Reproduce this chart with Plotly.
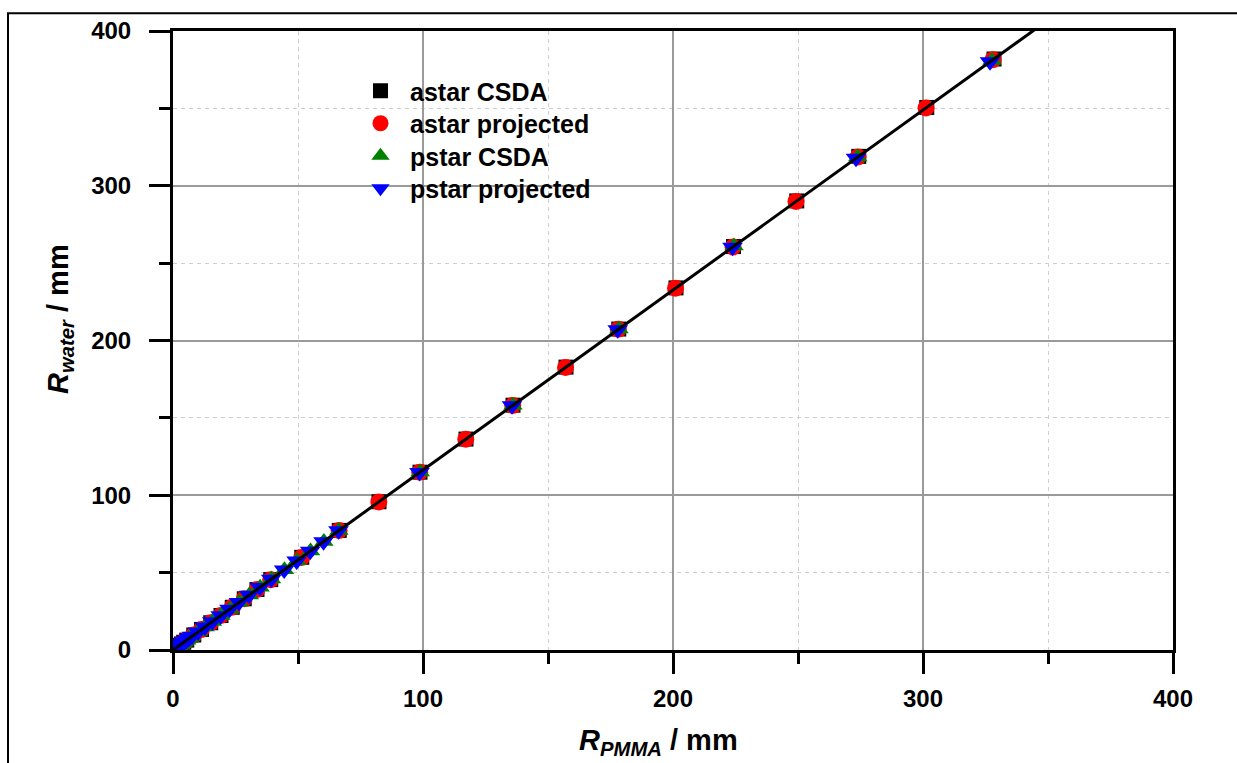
import plotly.graph_objects as go

# ---------------- data ----------------
astar_csda_pmma = [0.095, 0.36, 0.77, 1.29, 1.89, 2.58, 3.35, 4.3, 5.5, 8.3, 11.4, 15.1, 19.2, 23.7,
                   28.5, 33.6, 39.1, 51.5, 66.5, 82.4, 98.8, 117.2, 136.0, 157.2, 178.3, 201.2,
                   224.2, 249.5, 274.3, 301.5, 328.4]
astar_csda_water = [0.11, 0.42, 0.9, 1.5, 2.2, 3.0, 3.9, 5.0, 6.4, 9.7, 13.3, 17.6, 22.3, 27.6,
                    33.1, 39.1, 45.5, 59.9, 77.3, 95.8, 114.9, 136.3, 158.2, 182.8, 207.4, 234.0,
                    260.7, 290.2, 319.0, 350.6, 381.9]
astar_proj_pmma = [0.09, 0.35, 0.76, 1.28, 1.88, 2.57, 3.34, 4.29, 5.49, 8.29, 11.39, 15.08, 19.18, 23.68,
                   28.47, 33.57, 39.06, 51.45, 66.44, 82.32, 98.7, 117.1, 135.9, 157.0, 178.1, 201.0,
                   224.0, 249.2, 274.0, 301.2, 328.0]
astar_proj_water = [0.10, 0.41, 0.89, 1.49, 2.19, 2.99, 3.89, 4.99, 6.39, 9.69, 13.29, 17.58, 22.28, 27.57,
                    33.07, 39.06, 45.45, 59.84, 77.22, 95.7, 114.8, 136.2, 158.0, 182.6, 207.2, 233.7,
                    260.4, 289.9, 318.6, 350.2, 381.5]

pstar_csda_pmma = [0.026, 0.069, 0.129, 0.215, 0.31, 0.42, 0.56, 0.70, 0.86, 1.06, 1.56, 2.18, 2.90,
                   3.66, 4.51, 5.48, 6.49, 7.61, 10.08, 12.80, 15.77, 19.15, 22.67, 26.47, 30.53,
                   34.84, 39.39, 44.57, 49.58, 55.01, 60.35, 66.36, 98.9, 136.0, 178.4, 224.4,
                   273.9, 327.6]
pstar_csda_water = [0.03, 0.08, 0.15, 0.25, 0.36, 0.49, 0.65, 0.81, 1.00, 1.23, 1.81, 2.54, 3.37,
                    4.26, 5.25, 6.37, 7.55, 8.85, 11.72, 14.89, 18.34, 22.27, 26.37, 30.79, 35.51,
                    40.52, 45.81, 51.84, 57.66, 63.98, 70.19, 77.18, 115.0, 158.2, 207.5, 261.0,
                    318.5, 381.0]
pstar_proj_pmma = [0.025, 0.067, 0.127, 0.212, 0.306, 0.415, 0.554, 0.693, 0.852, 1.05, 1.55, 2.17, 2.88,
                   3.64, 4.49, 5.46, 6.47, 7.58, 10.05, 12.76, 15.73, 19.10, 22.61, 26.40, 30.45,
                   34.75, 39.29, 44.46, 49.46, 54.88, 60.21, 66.20, 98.6, 135.6, 177.9, 223.8,
                   273.2, 326.8]
pstar_proj_water = [0.029, 0.078, 0.148, 0.247, 0.356, 0.485, 0.644, 0.803, 0.99, 1.22, 1.80, 2.52, 3.35,
                    4.24, 5.23, 6.35, 7.52, 8.82, 11.68, 14.85, 18.29, 22.21, 26.30, 30.71, 35.42,
                    40.42, 45.70, 51.71, 57.52, 63.83, 70.02, 77.00, 114.7, 157.8, 206.9, 260.3,
                    317.7, 380.1]

fit_pmma = [0, 400]
fit_water = [0, 465.2]

x_ticks = [0, 100, 200, 300, 400]
y_ticks = [0, 100, 200, 300, 400]

FONT = "Liberation Sans, Arial, sans-serif"

fig = go.Figure()
series = [
    ("astar CSDA", astar_csda_pmma, astar_csda_water, "square", "black", 15),
    ("astar projected", astar_proj_pmma, astar_proj_water, "circle", "#ff0000", 17),
    ("pstar CSDA", pstar_csda_pmma, pstar_csda_water, "triangle-up", "#008000", 17),
    ("pstar projected", pstar_proj_pmma, pstar_proj_water, "triangle-down", "#0000ff", 18),
]
legend_names = ["legend", "legend2", "legend3", "legend4"]
for (name, xs, ys, sym, col, sz), lg in zip(series, legend_names):
    fig.add_trace(go.Scatter(
        x=xs, y=ys, mode="markers", name=name, legend=lg,
        marker=dict(symbol=sym, color=col, size=sz, line=dict(width=0)),
    ))

fig.add_trace(go.Scatter(x=fit_pmma, y=fit_water, mode="lines",
                         line=dict(color="black", width=3), showlegend=False, hoverinfo="skip"))

W, H = 1237, 763
L, R, T, B = 173, 64, 31, 113
pw, ph = W - L - R, H - T - B

def px(xp):
    return (xp - L) / pw

def py(yp):
    return (H - B - yp) / ph

axis_common = dict(
    range=[0, 400], tickmode="array", showline=True, linecolor="black", linewidth=3,
    mirror=True, ticks="outside", ticklen=21, tickwidth=3, tickcolor="black",
    showgrid=True, gridcolor="#9a9a9a", gridwidth=1.5, zeroline=False,
    tickfont=dict(family=FONT, size=24, color="black", weight="bold"),
    minor=dict(dtick=50, ticks="outside", ticklen=11, tickwidth=3, tickcolor="black",
               showgrid=True, gridcolor="#cfcfcf", gridwidth=1, griddash="4px,4px"),
)

fig.update_xaxes(**axis_common, tickvals=x_ticks, ticktext=[str(v) for v in x_ticks],
                 ticklabelstandoff=4)
fig.update_yaxes(**axis_common, tickvals=y_ticks, ticktext=[str(v) for v in y_ticks],
                 ticklabelstandoff=13)

legend_y = [91, 123.5, 156, 188.5]
leg = {}
for lg, yy in zip(legend_names, legend_y):
    leg[lg] = dict(x=px(351), y=py(yy), xanchor="left", yanchor="middle",
                   bgcolor="rgba(0,0,0,0)", borderwidth=0, itemwidth=49,
                   font=dict(family=FONT, size=25, color="black", weight="bold"))

fig.update_layout(
    width=W, height=H, margin=dict(l=L, r=R, t=T, b=B, autoexpand=False),
    paper_bgcolor="white", plot_bgcolor="white",
    **leg,
    shapes=[
        dict(type="rect", xref="paper", yref="paper", x0=px(288), x1=px(647), y0=py(210), y1=py(56),
             fillcolor="white", line=dict(width=0), layer="between"),
        dict(type="rect", xref="paper", yref="paper", x0=px(8), x1=px(1245), y0=py(775), y1=py(13.3),
             fillcolor="rgba(0,0,0,0)", line=dict(color="black", width=2), layer="above"),
    ],
    annotations=[
        dict(text="<i>R</i><sub><i>PMMA</i></sub> / mm", xref="paper", yref="paper",
             x=px(658), y=py(742), xanchor="center", yanchor="middle", showarrow=False,
             font=dict(family=FONT, size=29, color="black", weight="bold")),
        dict(text="<i>R</i><sub><i>water</i></sub> / mm", xref="paper", yref="paper",
             x=px(60), y=py(319), xanchor="center", yanchor="middle", showarrow=False, textangle=-90,
             font=dict(family=FONT, size=29, color="black", weight="bold")),
    ],
)

fig.write_html("out.html")
